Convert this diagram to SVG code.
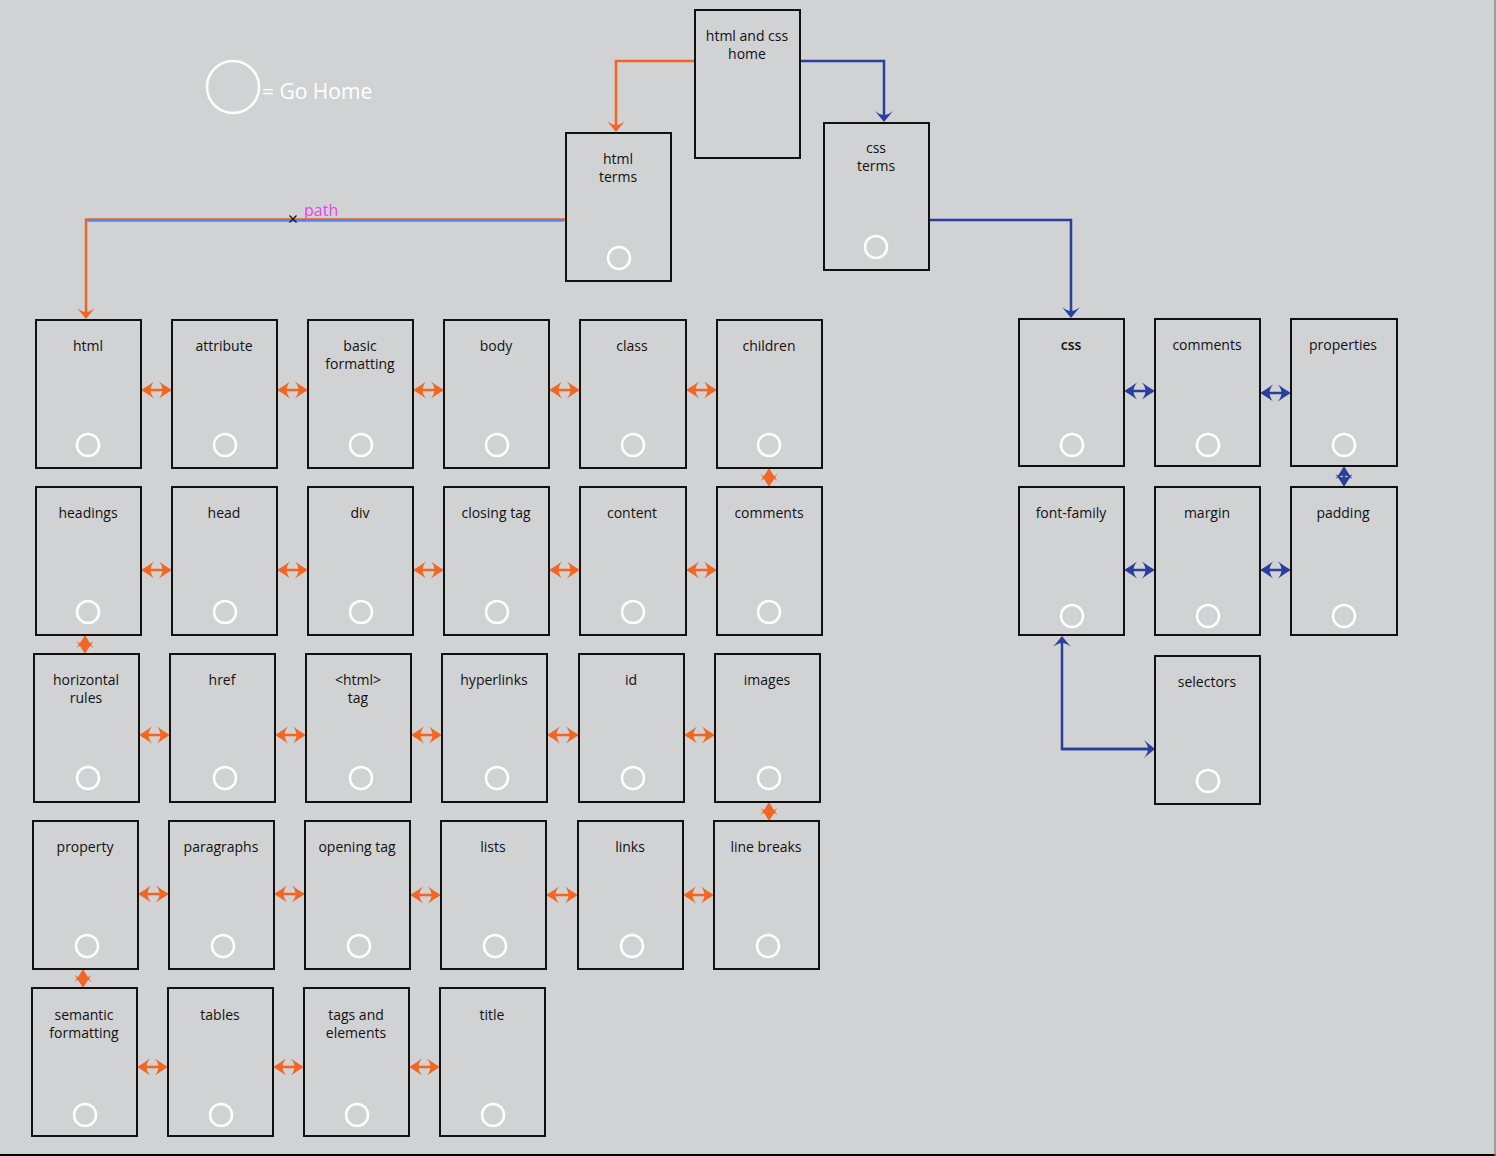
<svg xmlns="http://www.w3.org/2000/svg" width="1496" height="1156" viewBox="0 0 1496 1156">
<style>
.bg{fill:#d1d2d4}
.box{fill:#d1d2d4;stroke:#111;stroke-width:2}
.t{font-family:"Open Sans","Noto Sans","Liberation Sans",sans-serif;font-size:14px;fill:#111;text-anchor:middle}
.home{fill:none;stroke:#fff;stroke-width:2.5}
.o{stroke:#f26522;stroke-width:2.5;fill:none}
.b{stroke:#2a3f9b;stroke-width:2.5;fill:none}
.oa{stroke:#f26522;stroke-width:2.5;marker-start:url(#ao);marker-end:url(#ao)}
.ba{stroke:#2a3f9b;stroke-width:2.5;marker-start:url(#ab);marker-end:url(#ab)}
</style>
<defs>
<marker id="ao" viewBox="-14 -10 15 20" refX="-4" refY="0" markerWidth="15" markerHeight="20" markerUnits="userSpaceOnUse" orient="auto-start-reverse"><path d="M0,0 Q-7,-4 -13,-8.5 Q-9.5,-4 -9.5,0 Q-9.5,4 -13,8.5 Q-7,4 0,0Z" fill="#f26522"/></marker>
<marker id="ab" viewBox="-14 -10 15 20" refX="-4" refY="0" markerWidth="15" markerHeight="20" markerUnits="userSpaceOnUse" orient="auto-start-reverse"><path d="M0,0 Q-7,-4 -13,-8.5 Q-9.5,-4 -9.5,0 Q-9.5,4 -13,8.5 Q-7,4 0,0Z" fill="#2a3f9b"/></marker>
<marker id="aoL" viewBox="-13 -10 14 20" refX="-4" refY="0" markerWidth="14" markerHeight="20" markerUnits="userSpaceOnUse" orient="auto"><path d="M0,0 Q-5,-4 -11,-9 Q-7,-4 -7,0 Q-7,4 -11,9 Q-5,4 0,0Z" fill="#f26522"/></marker>
<marker id="abL" viewBox="-13 -10 14 20" refX="-4" refY="0" markerWidth="14" markerHeight="20" markerUnits="userSpaceOnUse" orient="auto"><path d="M0,0 Q-5,-4 -11,-9 Q-7,-4 -7,0 Q-7,4 -11,9 Q-5,4 0,0Z" fill="#2a3f9b"/></marker>
</defs>
<rect class="bg" x="0" y="0" width="1496" height="1156"/>
<line x1="0" y1="1155" x2="1496" y2="1155" stroke="#000" stroke-width="2"/>
<line x1="1495" y1="0" x2="1495" y2="1156" stroke="#8a8a8a" stroke-width="1.5"/>

<g id="legend">
<circle class="home" cx="233" cy="87" r="26"/>
<text x="262" y="99" font-family="'Open Sans','Noto Sans','Liberation Sans',sans-serif" font-size="21" fill="#fff">= Go Home</text>
</g>

<g id="connectors">
<polyline class="o" points="695,61 616,61 616,128" marker-end="url(#aoL)"/>
<polyline class="b" points="800,61 884,61 884,118" marker-end="url(#abL)"/>
<polyline class="o" points="566,219.5 86,219.5 86,315" marker-end="url(#aoL)"/>
<line x1="87.3" y1="220.4" x2="564" y2="220.4" stroke="#4f86f7" stroke-width="2.6"/>
<path d="M289.5,215.5 L296.5,222.5 M296.5,215.5 L289.5,222.5" stroke="#111" stroke-width="1.2"/>
<text x="304" y="216" font-family="'Open Sans','Noto Sans','Liberation Sans',sans-serif" font-size="16" fill="#f040f0">path</text>
<polyline class="b" points="929,220 1071,220 1071,314" marker-end="url(#abL)"/>
<polyline class="b" points="1155,749 1062,749 1062,640" marker-end="url(#abL)"/>
<line x1="1062" y1="749" x2="1151" y2="749" class="b" marker-end="url(#abL)"/>

<line class="oa" x1="145" y1="390" x2="168" y2="390"/>
<line class="oa" x1="281" y1="390" x2="304" y2="390"/>
<line class="oa" x1="417" y1="390" x2="440" y2="390"/>
<line class="oa" x1="553" y1="390" x2="576" y2="390"/>
<line class="oa" x1="690" y1="390" x2="713" y2="390"/>
<line class="oa" x1="145" y1="570" x2="168" y2="570"/>
<line class="oa" x1="281" y1="570" x2="304" y2="570"/>
<line class="oa" x1="417" y1="570" x2="440" y2="570"/>
<line class="oa" x1="553" y1="570" x2="576" y2="570"/>
<line class="oa" x1="690" y1="570" x2="713" y2="570"/>
<line class="oa" x1="143" y1="735" x2="166" y2="735"/>
<line class="oa" x1="279" y1="735" x2="302" y2="735"/>
<line class="oa" x1="415" y1="735" x2="438" y2="735"/>
<line class="oa" x1="551" y1="735" x2="575" y2="735"/>
<line class="oa" x1="688" y1="735" x2="711" y2="735"/>
<line class="oa" x1="142" y1="894" x2="165" y2="894"/>
<line class="oa" x1="278" y1="894" x2="301" y2="894"/>
<line class="oa" x1="414" y1="895" x2="437" y2="895"/>
<line class="oa" x1="550" y1="895" x2="574" y2="895"/>
<line class="oa" x1="687" y1="895" x2="710" y2="895"/>
<line class="oa" x1="141" y1="1067" x2="164" y2="1067"/>
<line class="oa" x1="277" y1="1067" x2="300" y2="1067"/>
<line class="oa" x1="413" y1="1067" x2="436" y2="1067"/>
<line class="oa" x1="769" y1="472" x2="769" y2="483"/>
<line class="oa" x1="85" y1="639" x2="85" y2="650"/>
<line class="oa" x1="769" y1="806" x2="769" y2="817"/>
<line class="oa" x1="83" y1="973" x2="83" y2="984"/>
<line class="ba" x1="1128" y1="391" x2="1151" y2="391"/>
<line class="ba" x1="1264" y1="393" x2="1287" y2="393"/>
<line class="ba" x1="1128" y1="570" x2="1151" y2="570"/>
<line class="ba" x1="1264" y1="570" x2="1287" y2="570"/>
<line class="ba" x1="1344" y1="470" x2="1344" y2="483"/>
</g>

<g id="n-home"><rect class="box" x="695" y="10" width="105" height="148"/><text class="t" x="747" y="41">html and css</text><text class="t" x="747" y="59">home</text></g>
<g id="n-html-terms"><rect class="box" x="566" y="133" width="105" height="148"/><text class="t" x="618" y="164">html</text><text class="t" x="618" y="182">terms</text><circle class="home" cx="619" cy="258" r="11"/></g>
<g id="n-css-terms"><rect class="box" x="824" y="123" width="105" height="147"/><text class="t" x="876" y="153">css</text><text class="t" x="876" y="171">terms</text><circle class="home" cx="876" cy="247" r="11"/></g>

<g id="n-html"><rect class="box" x="36" y="320" width="105" height="148"/><text class="t" x="88" y="351">html</text><circle class="home" cx="88" cy="445" r="11"/></g>
<g id="n-attribute"><rect class="box" x="172" y="320" width="105" height="148"/><text class="t" x="224" y="351">attribute</text><circle class="home" cx="225" cy="445" r="11"/></g>
<g id="n-basic-formatting"><rect class="box" x="308" y="320" width="105" height="148"/><text class="t" x="360" y="351">basic</text><text class="t" x="360" y="369">formatting</text><circle class="home" cx="361" cy="445" r="11"/></g>
<g id="n-body"><rect class="box" x="444" y="320" width="105" height="148"/><text class="t" x="496" y="351">body</text><circle class="home" cx="497" cy="445" r="11"/></g>
<g id="n-class"><rect class="box" x="580" y="320" width="106" height="148"/><text class="t" x="632" y="351">class</text><circle class="home" cx="633" cy="445" r="11"/></g>
<g id="n-children"><rect class="box" x="717" y="320" width="105" height="148"/><text class="t" x="769" y="351">children</text><circle class="home" cx="769" cy="445" r="11"/></g>

<g id="n-headings"><rect class="box" x="36" y="487" width="105" height="148"/><text class="t" x="88" y="518">headings</text><circle class="home" cx="88" cy="612" r="11"/></g>
<g id="n-head"><rect class="box" x="172" y="487" width="105" height="148"/><text class="t" x="224" y="518">head</text><circle class="home" cx="225" cy="612" r="11"/></g>
<g id="n-div"><rect class="box" x="308" y="487" width="105" height="148"/><text class="t" x="360" y="518">div</text><circle class="home" cx="361" cy="612" r="11"/></g>
<g id="n-closing-tag"><rect class="box" x="444" y="487" width="105" height="148"/><text class="t" x="496" y="518">closing tag</text><circle class="home" cx="497" cy="612" r="11"/></g>
<g id="n-content"><rect class="box" x="580" y="487" width="106" height="148"/><text class="t" x="632" y="518">content</text><circle class="home" cx="633" cy="612" r="11"/></g>
<g id="n-comments"><rect class="box" x="717" y="487" width="105" height="148"/><text class="t" x="769" y="518">comments</text><circle class="home" cx="769" cy="612" r="11"/></g>

<g id="n-horizontal-rules"><rect class="box" x="34" y="654" width="105" height="148"/><text class="t" x="86" y="685">horizontal</text><text class="t" x="86" y="703">rules</text><circle class="home" cx="88" cy="778" r="11"/></g>
<g id="n-href"><rect class="box" x="170" y="654" width="105" height="148"/><text class="t" x="222" y="685">href</text><circle class="home" cx="225" cy="778" r="11"/></g>
<g id="n-html-tag"><rect class="box" x="306" y="654" width="105" height="148"/><text class="t" x="358" y="685">&lt;html&gt;</text><text class="t" x="358" y="703">tag</text><circle class="home" cx="361" cy="778" r="11"/></g>
<g id="n-hyperlinks"><rect class="box" x="442" y="654" width="105" height="148"/><text class="t" x="494" y="685">hyperlinks</text><circle class="home" cx="497" cy="778" r="11"/></g>
<g id="n-id"><rect class="box" x="579" y="654" width="105" height="148"/><text class="t" x="631" y="685">id</text><circle class="home" cx="633" cy="778" r="11"/></g>
<g id="n-images"><rect class="box" x="715" y="654" width="105" height="148"/><text class="t" x="767" y="685">images</text><circle class="home" cx="769" cy="778" r="11"/></g>

<g id="n-property"><rect class="box" x="33" y="821" width="105" height="148"/><text class="t" x="85" y="852">property</text><circle class="home" cx="87" cy="946" r="11"/></g>
<g id="n-paragraphs"><rect class="box" x="169" y="821" width="105" height="148"/><text class="t" x="221" y="852">paragraphs</text><circle class="home" cx="223" cy="946" r="11"/></g>
<g id="n-opening-tag"><rect class="box" x="305" y="821" width="105" height="148"/><text class="t" x="357" y="852">opening tag</text><circle class="home" cx="359" cy="946" r="11"/></g>
<g id="n-lists"><rect class="box" x="441" y="821" width="105" height="148"/><text class="t" x="493" y="852">lists</text><circle class="home" cx="495" cy="946" r="11"/></g>
<g id="n-links"><rect class="box" x="578" y="821" width="105" height="148"/><text class="t" x="630" y="852">links</text><circle class="home" cx="632" cy="946" r="11"/></g>
<g id="n-line-breaks"><rect class="box" x="714" y="821" width="105" height="148"/><text class="t" x="766" y="852">line breaks</text><circle class="home" cx="768" cy="946" r="11"/></g>

<g id="n-semantic-formatting"><rect class="box" x="32" y="988" width="105" height="148"/><text class="t" x="84" y="1020">semantic</text><text class="t" x="84" y="1038">formatting</text><circle class="home" cx="85" cy="1115" r="11"/></g>
<g id="n-tables"><rect class="box" x="168" y="988" width="105" height="148"/><text class="t" x="220" y="1020">tables</text><circle class="home" cx="221" cy="1115" r="11"/></g>
<g id="n-tags-and-elements"><rect class="box" x="304" y="988" width="105" height="148"/><text class="t" x="356" y="1020">tags and</text><text class="t" x="356" y="1038">elements</text><circle class="home" cx="357" cy="1115" r="11"/></g>
<g id="n-title"><rect class="box" x="440" y="988" width="105" height="148"/><text class="t" x="492" y="1020">title</text><circle class="home" cx="493" cy="1115" r="11"/></g>

<g id="n-css"><rect class="box" x="1019" y="319" width="105" height="147"/><text class="t" x="1071" y="350" font-weight="600">css</text><circle class="home" cx="1072" cy="445" r="11"/></g>
<g id="n-css-comments"><rect class="box" x="1155" y="319" width="105" height="147"/><text class="t" x="1207" y="350">comments</text><circle class="home" cx="1208" cy="445" r="11"/></g>
<g id="n-properties"><rect class="box" x="1291" y="319" width="106" height="147"/><text class="t" x="1343" y="350">properties</text><circle class="home" cx="1344" cy="445" r="11"/></g>
<g id="n-font-family"><rect class="box" x="1019" y="487" width="105" height="148"/><text class="t" x="1071" y="518">font-family</text><circle class="home" cx="1072" cy="616" r="11"/></g>
<g id="n-margin"><rect class="box" x="1155" y="487" width="105" height="148"/><text class="t" x="1207" y="518">margin</text><circle class="home" cx="1208" cy="616" r="11"/></g>
<g id="n-padding"><rect class="box" x="1291" y="487" width="106" height="148"/><text class="t" x="1343" y="518">padding</text><circle class="home" cx="1344" cy="616" r="11"/></g>
<g id="n-selectors"><rect class="box" x="1155" y="656" width="105" height="148"/><text class="t" x="1207" y="687">selectors</text><circle class="home" cx="1208" cy="781" r="11"/></g>
</svg>
